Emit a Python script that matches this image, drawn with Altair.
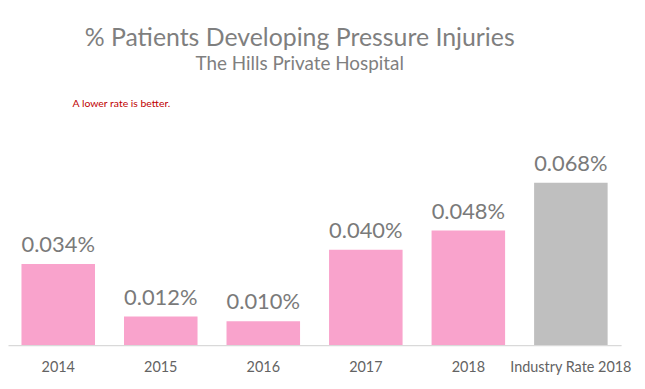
import altair as alt
import pandas as pd

categories = ["2014", "2015", "2016", "2017", "2018", "Industry Rate 2018"]
values = [0.034, 0.012, 0.010, 0.040, 0.048, 0.068]
groups = ["Hospital", "Hospital", "Hospital", "Hospital", "Hospital", "Industry"]

df = pd.DataFrame({"category": categories, "value": values, "group": groups})

H = 255
base = alt.Chart(df).encode(
    x=alt.X("category:N", sort=categories,
            scale=alt.Scale(paddingInner=0.28, paddingOuter=0.13),
            axis=alt.Axis(title=None, labelAngle=0, ticks=False, domainColor="#d9d9d9",
                          domainWidth=1.2, labelColor="#636363", labelFontSize=14.5,
                          labelFont="Lato", labelPadding=16)),
    y=alt.Y("value:Q", scale=alt.Scale(domain=[0, H / 2400]), axis=None),
)

bars = base.mark_bar(size=74).encode(
    color=alt.Color("group:N", scale=alt.Scale(domain=["Hospital", "Industry"],
                                               range=["#f9a3cc", "#bfbfbf"]), legend=None)
)

labels = base.transform_calculate(
    label="format(datum.value, '.3f') + '%'"
).mark_text(baseline="alphabetic", dy=-12, fontSize=22, font="Lato", color="#7a7a7a").encode(
    text="label:N"
)

note = alt.Chart(pd.DataFrame({"t": ["A lower rate is better."]})).mark_text(
    align="left", baseline="alphabetic", fontSize=10.5, font="Lato", color="#c00000"
).encode(text="t:N", x=alt.value(65), y=alt.value(15))

chart = alt.layer(bars, labels, note).properties(
    width=617, height=H,
    padding={"left": 0, "top": 17, "right": 5, "bottom": 5},
    title=alt.TitleParams(
        text="% Patients Developing Pressure Injuries",
        subtitle="The Hills Private Hospital",
        font="Lato", fontSize=25, fontWeight="normal", color="#7f7f7f",
        subtitleFont="Lato", subtitleFontSize=19, subtitleColor="#7f7f7f",
        subtitlePadding=4, anchor="middle", dx=-15, offset=18,
    ),
).configure_view(stroke=None)

chart.save("out.html", embed_options={"renderer": "svg", "actions": False})
